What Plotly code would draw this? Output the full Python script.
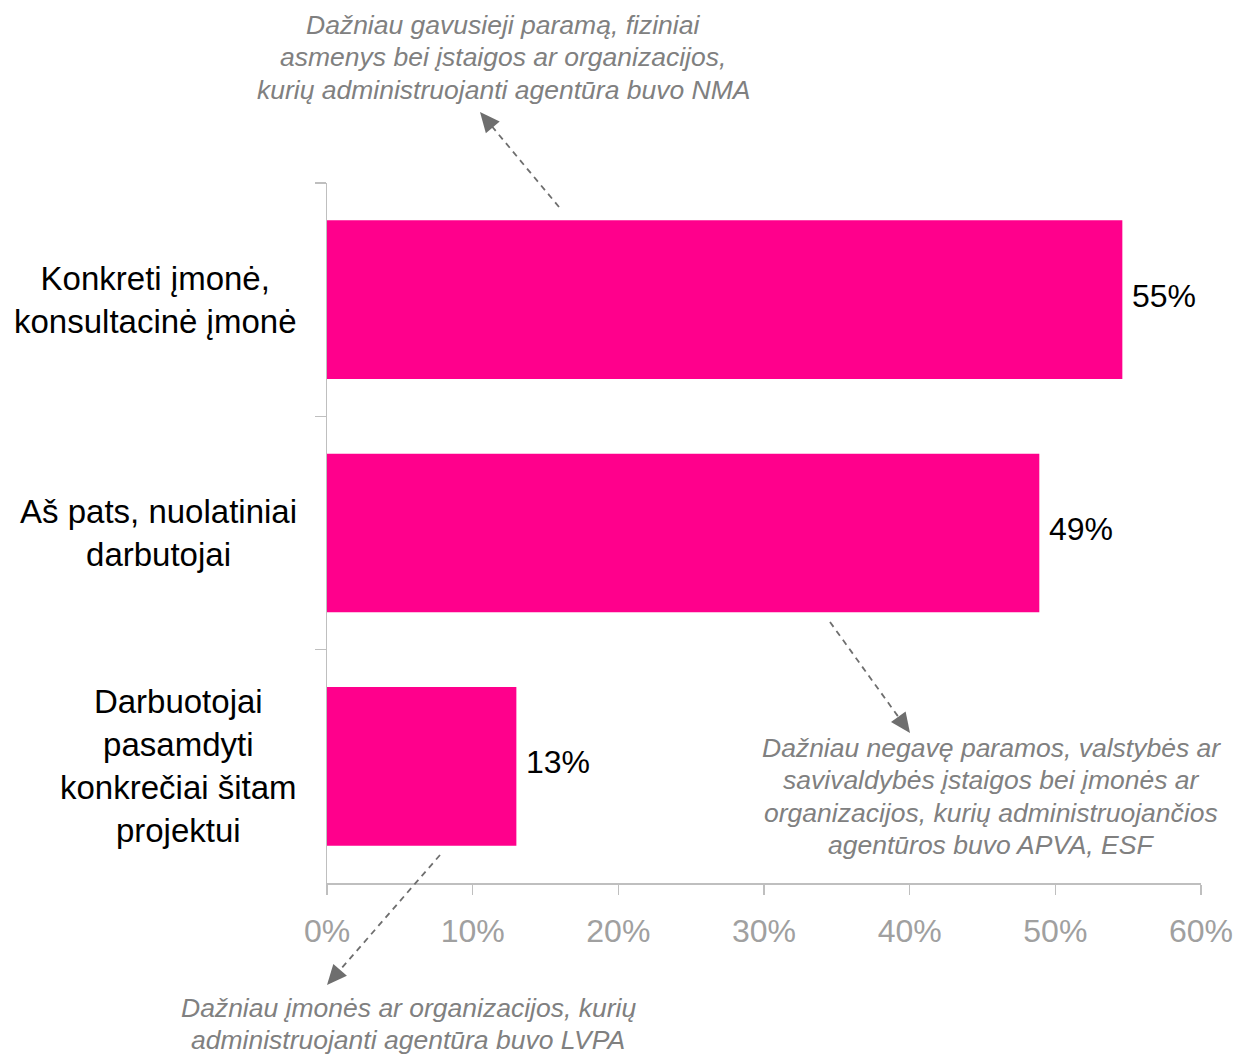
import plotly.graph_objects as go
import math

categories = ["Konkreti įmonė,<br>konsultacinė įmonė",
              "Aš pats, nuolatiniai<br>darbutojai",
              "Darbuotojai<br>pasamdyti<br>konkrečiai šitam<br>projektui"]
values = [54.6, 48.9, 13.0]
value_labels = ["55%", "49%", "13%"]
x_ticks = [0, 10, 20, 30, 40, 50, 60]
x_tick_labels = ["0%", "10%", "20%", "30%", "40%", "50%", "60%"]

notes = [
    ["Dažniau gavusieji paramą, fiziniai",
     "asmenys bei įstaigos ar organizacijos,",
     "kurių administruojanti agentūra buvo NMA"],
    ["Dažniau negavę paramos, valstybės ar",
     "savivaldybės įstaigos bei įmonės ar",
     "organizacijos, kurių administruojančios",
     "agentūros buvo APVA, ESF"],
    ["Dažniau įmonės ar organizacijos, kurių",
     "administruojanti agentūra buvo LVPA"],
]

SW, SH = 1236, 1055
PL, PR, PT, PB = 327, 1201, 183, 883
FONT = "Liberation Sans, Arial, sans-serif"
PINK = "#FF008C"

def px(x):
    return (x - PL) / (PR - PL)

def py(y):
    return (PB - y) / (PB - PT)

fig = go.Figure()
fig.add_trace(go.Bar(
    y=categories, x=values, orientation="h",
    marker=dict(color=PINK, line=dict(width=0)),
    width=0.68, hoverinfo="skip",
))

annotations = []
for c in categories:
    annotations.append(dict(
        x=0, xref="paper", y=c, yref="y", text=c, showarrow=False,
        xanchor="right", yanchor="middle", align="center", xshift=-28,
        font=dict(family=FONT, size=33, color="#000000"),
    ))
for c, v, lab in zip(categories, values, value_labels):
    annotations.append(dict(
        x=v, xref="x", y=c, yref="y", text=lab, showarrow=False,
        xanchor="left", yanchor="middle", xshift=8, yshift=4,
        font=dict(family=FONT, size=32, color="#000000"),
    ))

note_pos = [(503, 25), (991, 748), (408, 1008)]
for lines, (nx, ny) in zip(notes, note_pos):
    for i, line in enumerate(lines):
        annotations.append(dict(
            x=px(nx), xref="paper", y=py(ny + i * 32.3), yref="paper",
            text="<i>" + line + "</i>",
            showarrow=False, xanchor="center", yanchor="middle", align="center",
            font=dict(family=FONT, size=26.5, color="#808080"),
        ))

shapes = []
arrows = [((559, 207), (480, 112)), ((830, 622), (910, 733)), ((440, 855), (327, 985))]
ARROW_COL = "#6E6E6E"
for (tx, ty), (hx, hy) in arrows:
    dx, dy = hx - tx, hy - ty
    L = math.hypot(dx, dy)
    ux, uy = dx / L, dy / L
    hl, hw = 20, 9
    bx, by = hx - ux * hl, hy - uy * hl
    nx_, ny_ = -uy, ux
    shapes.append(dict(type="line", xref="paper", yref="paper",
                       x0=px(tx), y0=py(ty), x1=px(bx + ux * 2), y1=py(by + uy * 2),
                       line=dict(color=ARROW_COL, width=1.8, dash="6px,5px")))
    c1 = (bx + nx_ * hw, by + ny_ * hw)
    c2 = (bx - nx_ * hw, by - ny_ * hw)
    path = "M {:.5f} {:.5f} L {:.5f} {:.5f} L {:.5f} {:.5f} Z".format(
        px(hx), py(hy), px(c1[0]), py(c1[1]), px(c2[0]), py(c2[1]))
    shapes.append(dict(type="path", xref="paper", yref="paper", path=path,
                       fillcolor=ARROW_COL, line=dict(width=0)))

fig.update_layout(
    width=SW, height=SH,
    margin=dict(l=PL, r=SW - PR, t=PT, b=SH - PB, pad=0, autoexpand=False),
    plot_bgcolor="white", paper_bgcolor="white",
    showlegend=False, hovermode=False,
    annotations=annotations, shapes=shapes,
    xaxis=dict(range=[0, 60], tickvals=x_ticks, ticktext=x_tick_labels,
               automargin=False,
               showgrid=False, zeroline=False, showline=True,
               linecolor="#BFBFBF", linewidth=1.5,
               ticks="outside", ticklen=10, tickcolor="#BFBFBF", tickwidth=1.5,
               ticklabelstandoff=9,
               tickfont=dict(family=FONT, size=32, color="#A0A0A0"),
               fixedrange=True),
    yaxis=dict(range=[2.5, -0.5], showgrid=False, zeroline=False, showline=True,
               automargin=False,
               linecolor="#BFBFBF", linewidth=1.5,
               ticks="outside", ticklen=11, tickcolor="#BFBFBF", tickwidth=1.5,
               tickson="boundaries", showticklabels=False, fixedrange=True),
)

fig.write_html("out.html",
               config={"displayModeBar": False, "staticPlot": True},
               post_script="document.body.style.margin='0';document.body.style.overflow='hidden';")
